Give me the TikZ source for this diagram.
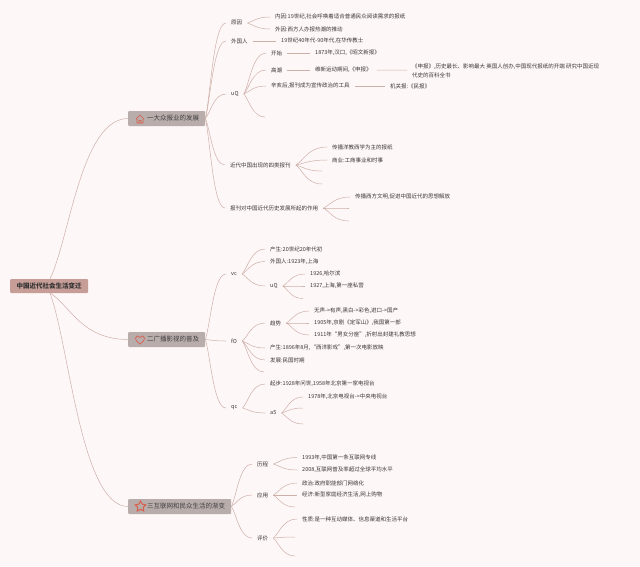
\documentclass[tikz,border=0pt]{standalone}
\usepackage{fontspec}
\setmainfont[Kerning=Off]{Noto Sans CJK SC}
\usetikzlibrary{calc,shapes.geometric}
\definecolor{pagetint}{HTML}{FEF7F7}
\definecolor{linkrose}{HTML}{CDB0A8}
\definecolor{inktext}{HTML}{3E3636}
\definecolor{rootfill}{HTML}{C69D97}
\definecolor{branchfill}{HTML}{B8ADAB}
\definecolor{iconred}{HTML}{D8604F}
\tikzset{
	leaf/.style={anchor=west,inner xsep=5pt,inner ysep=0pt,text=inktext,font=\fontsize{5.5}{9}\selectfont,align=left},
	branchbox/.style={anchor=west,fill=branchfill,rounded corners=1pt,inner xsep=6pt,inner ysep=0pt,minimum height=15pt,text=black!75,font=\fontsize{6.5}{8}\selectfont},
	rootbox/.style={anchor=west,fill=rootfill,rounded corners=1pt,inner xsep=6.5pt,inner ysep=0pt,minimum height=14pt,text=black!80,font=\fontsize{6.5}{8}\selectfont\bfseries},
	linkline/.style={draw=linkrose,line width=0.5pt},
	iconline/.style={draw=iconred,line width=0.7pt,line join=round},
}
\newcommand{\curvelink}[2]{
	\coordinate (ctl) at ($(#1)!0.4!(#2)$);
	\draw[linkline] (#1) .. controls ($(#1)!0.25!(#2)$) and (ctl |- #2) .. (#2);
}
\begin{document}
\begin{tikzpicture}[x=1pt,y=-1pt]
	\useasboundingbox[fill=pagetint] (0,0) rectangle (640,566);

	%%%%% ROOT AND BRANCHES %%%%%
	\node[rootbox] (root) at (10,286) {中国近代社会生活变迁};
	\node[branchbox] (press) at (128,118.5) {\hspace*{13pt}一大众报业的发展};
	\node[branchbox] (screen) at (128,339.5) {\hspace*{13pt}二广播影视的普及};
	\node[branchbox] (web) at (128,506.5) {\hspace*{13pt}三互联网和民众生活的渐变};
	\coordinate (rootup) at (50,279);
	\coordinate (rootdown) at (50,293);
	\curvelink{rootup}{press.west}
	\curvelink{rootdown}{screen.west}
	\curvelink{rootdown}{web.west}

	\draw[iconline] (136,119) -- (140,115) -- (144,119) (137,119) -- (137,123) -- (143,123) -- (143,119) (139,123) -- (139,120.5) -- (141,120.5) -- (141,123);
	\draw[iconline] (140,344) .. controls (136,341) and (135.5,339.5) .. (135.5,338) .. controls (135.5,335.5) and (139,335) .. (140,337.5) .. controls (141,335) and (144.5,335.5) .. (144.5,338) .. controls (144.5,339.5) and (144,341) .. (140,344) -- cycle;
	\node[star,star points=5,star point ratio=1.9,draw=iconred,line width=1pt,inner sep=0pt,minimum size=11pt] (webstar) at (140.5,506.5) {};

	%%%%% PRESS %%%%%
	\node[leaf] (cause) at (226,23) {原因};
	\node[leaf] (foreigner) at (226,41) {外国人};
	\node[leaf] (uq) at (226,94) {uQ};
	\node[leaf] (kinds) at (225,165) {近代中国出现的四类报刊};
	\node[leaf] (role) at (225,208) {报刊对中国近代历史发展所起的作用};
	\foreach \kid in {cause,foreigner,uq,kinds,role}
		{\curvelink{press.east}{\kid.west}}

	\node[leaf] (inner) at (270,17) {内因:19世纪,社会呼唤着适合普通民众阅读需求的报纸};
	\node[leaf] (outer) at (270,29) {外因:西方人办报热潮的推动};
	\curvelink{cause.east}{inner.west}
	\curvelink{cause.east}{outer.west}
	\node[leaf] (mission) at (276,41) {19世纪40年代-90年代,在华传教士};
	\draw[linkline] (foreigner) -- (mission);

	\node[leaf] (begin) at (266,53) {开始};
	\node[leaf] (peak) at (266,70) {高潮};
	\node[leaf] (after) at (266,86) {辛亥后,报刊成为宣传政治的工具};
	\coordinate (uqend) at (265,117);
	\foreach \kid in {begin.west,peak.west,after.west,uqend}
		{\curvelink{uq.east}{\kid}}
	\node[leaf] (hankou) at (310,53) {1873年,汉口,《昭文新报》};
	\node[leaf] (reform) at (310,70) {维新运动期间,《申报》};
	\node[leaf] (shenbao) at (407,70.5) {《申报》,历史最长、影响最大 英国人创办,中国现代报纸的开端 研究中国近现\\代史的百科全书};
	\node[leaf] (organ) at (385,86) {机关报:《民报》};
	\draw[linkline] (begin) -- (hankou);
	\draw[linkline] (peak) -- (reform);
	\draw[linkline] (reform) -- (shenbao);
	\draw[linkline] (after) -- (organ);

	\node[leaf] (mission2) at (327,147) {传播洋教西学为主的报纸};
	\node[leaf] (trade) at (327,160) {商业:工商事业和时事};
	\coordinate (kindsa) at (322,171);
	\coordinate (kindsb) at (322,184);
	\foreach \kid in {mission2.west,trade.west,kindsa,kindsb}
		{\curvelink{kinds.east}{\kid}}
	\node[leaf] (spread) at (350,197) {传播西方文明,促进中国近代的思想解放};
	\coordinate (rolea) at (349,208);
	\coordinate (roleb) at (349,221);
	\foreach \kid in {spread.west,rolea,roleb}
		{\curvelink{role.east}{\kid}}

	%%%%% SCREEN %%%%%
	\node[leaf] (vc) at (226,274) {vc};
	\node[leaf] (fo) at (226,341) {fO};
	\node[leaf] (qc) at (226,408) {qc};
	\foreach \kid in {vc,fo,qc}
		{\curvelink{screen.east}{\kid.west}}

	\node[leaf] (vcborn) at (265,249) {产生:20世纪20年代初};
	\node[leaf] (vcfor) at (265,261.5) {外国人:1923年,上海};
	\node[leaf] (vcuq) at (265,286) {uQ};
	\foreach \kid in {vcborn,vcfor,vcuq}
		{\curvelink{vc.east}{\kid.west}}
	\node[leaf] (harbin) at (305,274) {1926,哈尔滨};
	\node[leaf] (private) at (305,286) {1927,上海,第一座私营};
	\coordinate (vcend) at (303,298.5);
	\foreach \kid in {harbin.west,private.west,vcend}
		{\curvelink{vcuq.east}{\kid}}

	\node[leaf] (trend) at (265,323) {趋势};
	\node[leaf] (foborn) at (265,348) {产生:1896年8月,“西洋影戏”,第一次电影放映};
	\node[leaf] (fogrow) at (265,360) {发展:民国时期};
	\coordinate (foend) at (264,372);
	\foreach \kid in {trend.west,foborn.west,fogrow.west,foend}
		{\curvelink{fo.east}{\kid}}
	\node[leaf] (sound) at (309,311) {无声->有声,黑白->彩色,进口->国产};
	\node[leaf] (opera) at (309,323) {1905年,京剧《定军山》,我国第一部};
	\node[leaf] (seats) at (309,335) {1911年“男女分座”,折射出封建礼教思想};
	\foreach \kid in {sound,opera,seats}
		{\curvelink{trend.east}{\kid.west}}

	\node[leaf] (start) at (265,384) {起步:1928年问世,1958年北京第一家电视台};
	\node[leaf] (five) at (265,413) {a5};
	\curvelink{qc.east}{start.west}
	\curvelink{qc.east}{five.west}
	\node[leaf] (cctv) at (303,397) {1978年,北京电视台->中央电视台};
	\coordinate (fivea) at (303,408);
	\coordinate (fiveb) at (303,424);
	\foreach \kid in {cctv.west,fivea,fiveb}
		{\curvelink{five.east}{\kid}}

	%%%%% WEB %%%%%
	\node[leaf] (course) at (252,464) {历程};
	\node[leaf] (usage) at (252,495) {应用};
	\node[leaf] (verdict) at (252,538) {评价};
	\foreach \kid in {course,usage,verdict}
		{\curvelink{web.east}{\kid.west}}

	\node[leaf] (line93) at (297,457.5) {1993年,中国第一条互联网专线};
	\node[leaf] (rate) at (297,470) {2008,互联网普及率超过全球平均水平};
	\curvelink{course.east}{line93.west}
	\curvelink{course.east}{rate.west}
	\node[leaf] (gov) at (297,483) {政治:政府职能部门网络化};
	\node[leaf] (econ) at (297,495) {经济:新型家庭经济生活,网上购物};
	\coordinate (usageend) at (295,507);
	\foreach \kid in {gov.west,econ.west,usageend}
		{\curvelink{usage.east}{\kid}}
	\node[leaf] (nature) at (297,519) {性质:是一种互动媒体、信息渠道和生活平台};
	\coordinate (verdicta) at (295,537);
	\coordinate (verdictb) at (295,556);
	\foreach \kid in {nature.west,verdicta,verdictb}
		{\curvelink{verdict.east}{\kid}}
\end{tikzpicture}
\end{document}
